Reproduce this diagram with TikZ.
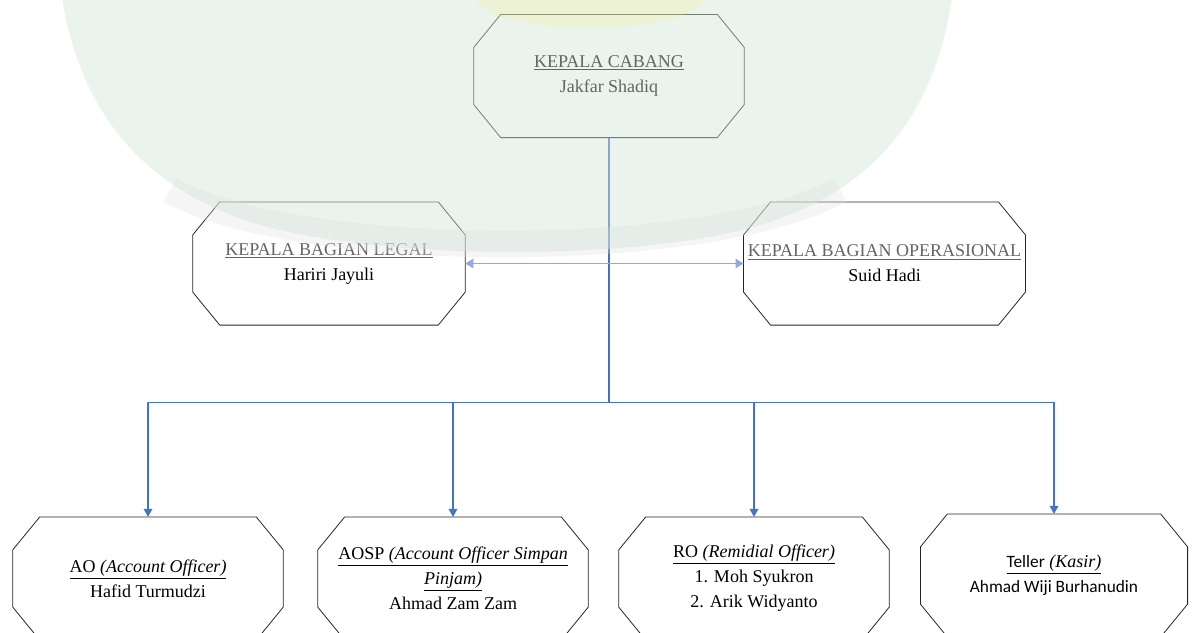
\documentclass[tikz,border=0pt]{standalone}
\usepackage{fontspec}
\setmainfont{Liberation Serif}
\newfontfamily\calib{Carlito}
\usetikzlibrary{calc, arrows.meta}

\definecolor{linkblue}{RGB}{68,114,196}
\definecolor{palelink}{RGB}{143,170,220}
\definecolor{headgray}{RGB}{100,100,100}
\definecolor{wmgreen}{RGB}{209,231,213}
\definecolor{wmgray}{RGB}{222,222,222}
\definecolor{wmyellow}{RGB}{255,232,120}

% chamfer of the boxes (px)
\def\cx{27}
\def\cy{33}
\newcommand\octbox[1]{%
  \draw[boxline] ($(#1.north west)+(\cx,0)$) -- ($(#1.north east)+(-\cx,0)$)
    -- ($(#1.north east)+(0,-\cy)$) -- ($(#1.south east)+(0,\cy)$)
    -- ($(#1.south east)+(-\cx,0)$) -- ($(#1.south west)+(\cx,0)$)
    -- ($(#1.south west)+(0,\cy)$) -- ($(#1.north west)+(0,-\cy)$) -- cycle;}

\begin{document}
\begin{tikzpicture}[
    x=0.75pt, y=0.75pt,
    unit/.style={rectangle, draw=none, align=center, inner sep=0pt,
        minimum width=202.5pt, minimum height=92pt,
        font=\fontsize{13.5}{18.75}\selectfont},
    boxline/.style={draw=black!85, line width=0.6pt},
    bus/.style={draw=linkblue, line width=0.9pt},
    pale/.style={draw=palelink, line width=1.2pt},
    tip/.style={-{Triangle[width=6.5pt,length=6pt]}}
    ]

    % Determines the boundries
    \path[use as bounding box] (0,0) rectangle (1195,-632);
    \clip (0,0) rectangle (1195,-632);

    % Head of the branch
    \node[unit] (cabang) at (609,-76) {\underline{KEPALA CABANG}\\Jakfar Shadiq};

    % Second row
    \node[unit, minimum width=204pt] (legal) at (329,-263.5)
        {\textcolor{headgray}{\underline{KEPALA BAGIAN LEGAL}}\\Hariri Jayuli};
    \node[unit, minimum width=211pt] (ops) at (884.5,-263.5)
        {\textcolor{headgray}{\underline{KEPALA BAGIAN OPERASIONAL}}\\Suid Hadi};

    % Staff row
    \node[unit] (ao) at (148,-578.5)
        {\underline{AO \textit{(Account Officer)}}\\Hafid Turmudzi};
    \node[unit] (aosp) at (453,-578.5)
        {\underline{AOSP \textit{(Account Officer Simpan}}\\
         \underline{\textit{Pinjam)}}\\Ahmad Zam Zam};
    \node[unit] (ro) at (754,-578.5)
        {\underline{RO \textit{(Remidial Officer)}}\\1. Moh Syukron\\2. Arik Widyanto};
    \node[unit, minimum width=200pt] (teller) at (1054,-575.5)
        {\underline{{\calib\fontsize{13}{18.75}\selectfont Teller} \textit{(Kasir)}}\\
         {\calib\fontsize{13}{18.75}\selectfont Ahmad Wiji Burhanudin}};

    \foreach \n in {cabang,legal,ops,ao,aosp,ro,teller}{
        \octbox{\n}
    }

    % Lines of command
    \path (cabang.south) ++(0,-265) coordinate (hub);
    \draw[bus] (cabang.south) -- (hub);
    \foreach \n in {ao,aosp,ro,teller}{
        \draw[bus, tip] (hub) -| (\n.north);
    }
    \draw[pale, {Triangle[width=7pt,length=6pt]}-{Triangle[width=7pt,length=6pt]}]
        (legal.east) -- (ops.west);

    % Watermark laid over the page
    \fill[wmgreen, opacity=0.45] (62,2) -- (952,2)
        .. controls (935,-110) and (880,-185) .. (770,-222)
        .. controls (650,-262) and (380,-262) .. (250,-222)
        .. controls (140,-185) and (80,-110) .. (62,2) -- cycle;
    \draw[wmgray, opacity=0.3, line width=20pt]
        (170,-190) .. controls (300,-262) and (710,-262) .. (840,-190);
    \fill[wmyellow, opacity=0.2] (590,4) ellipse [x radius=115, y radius=32];

\end{tikzpicture}
\end{document}
